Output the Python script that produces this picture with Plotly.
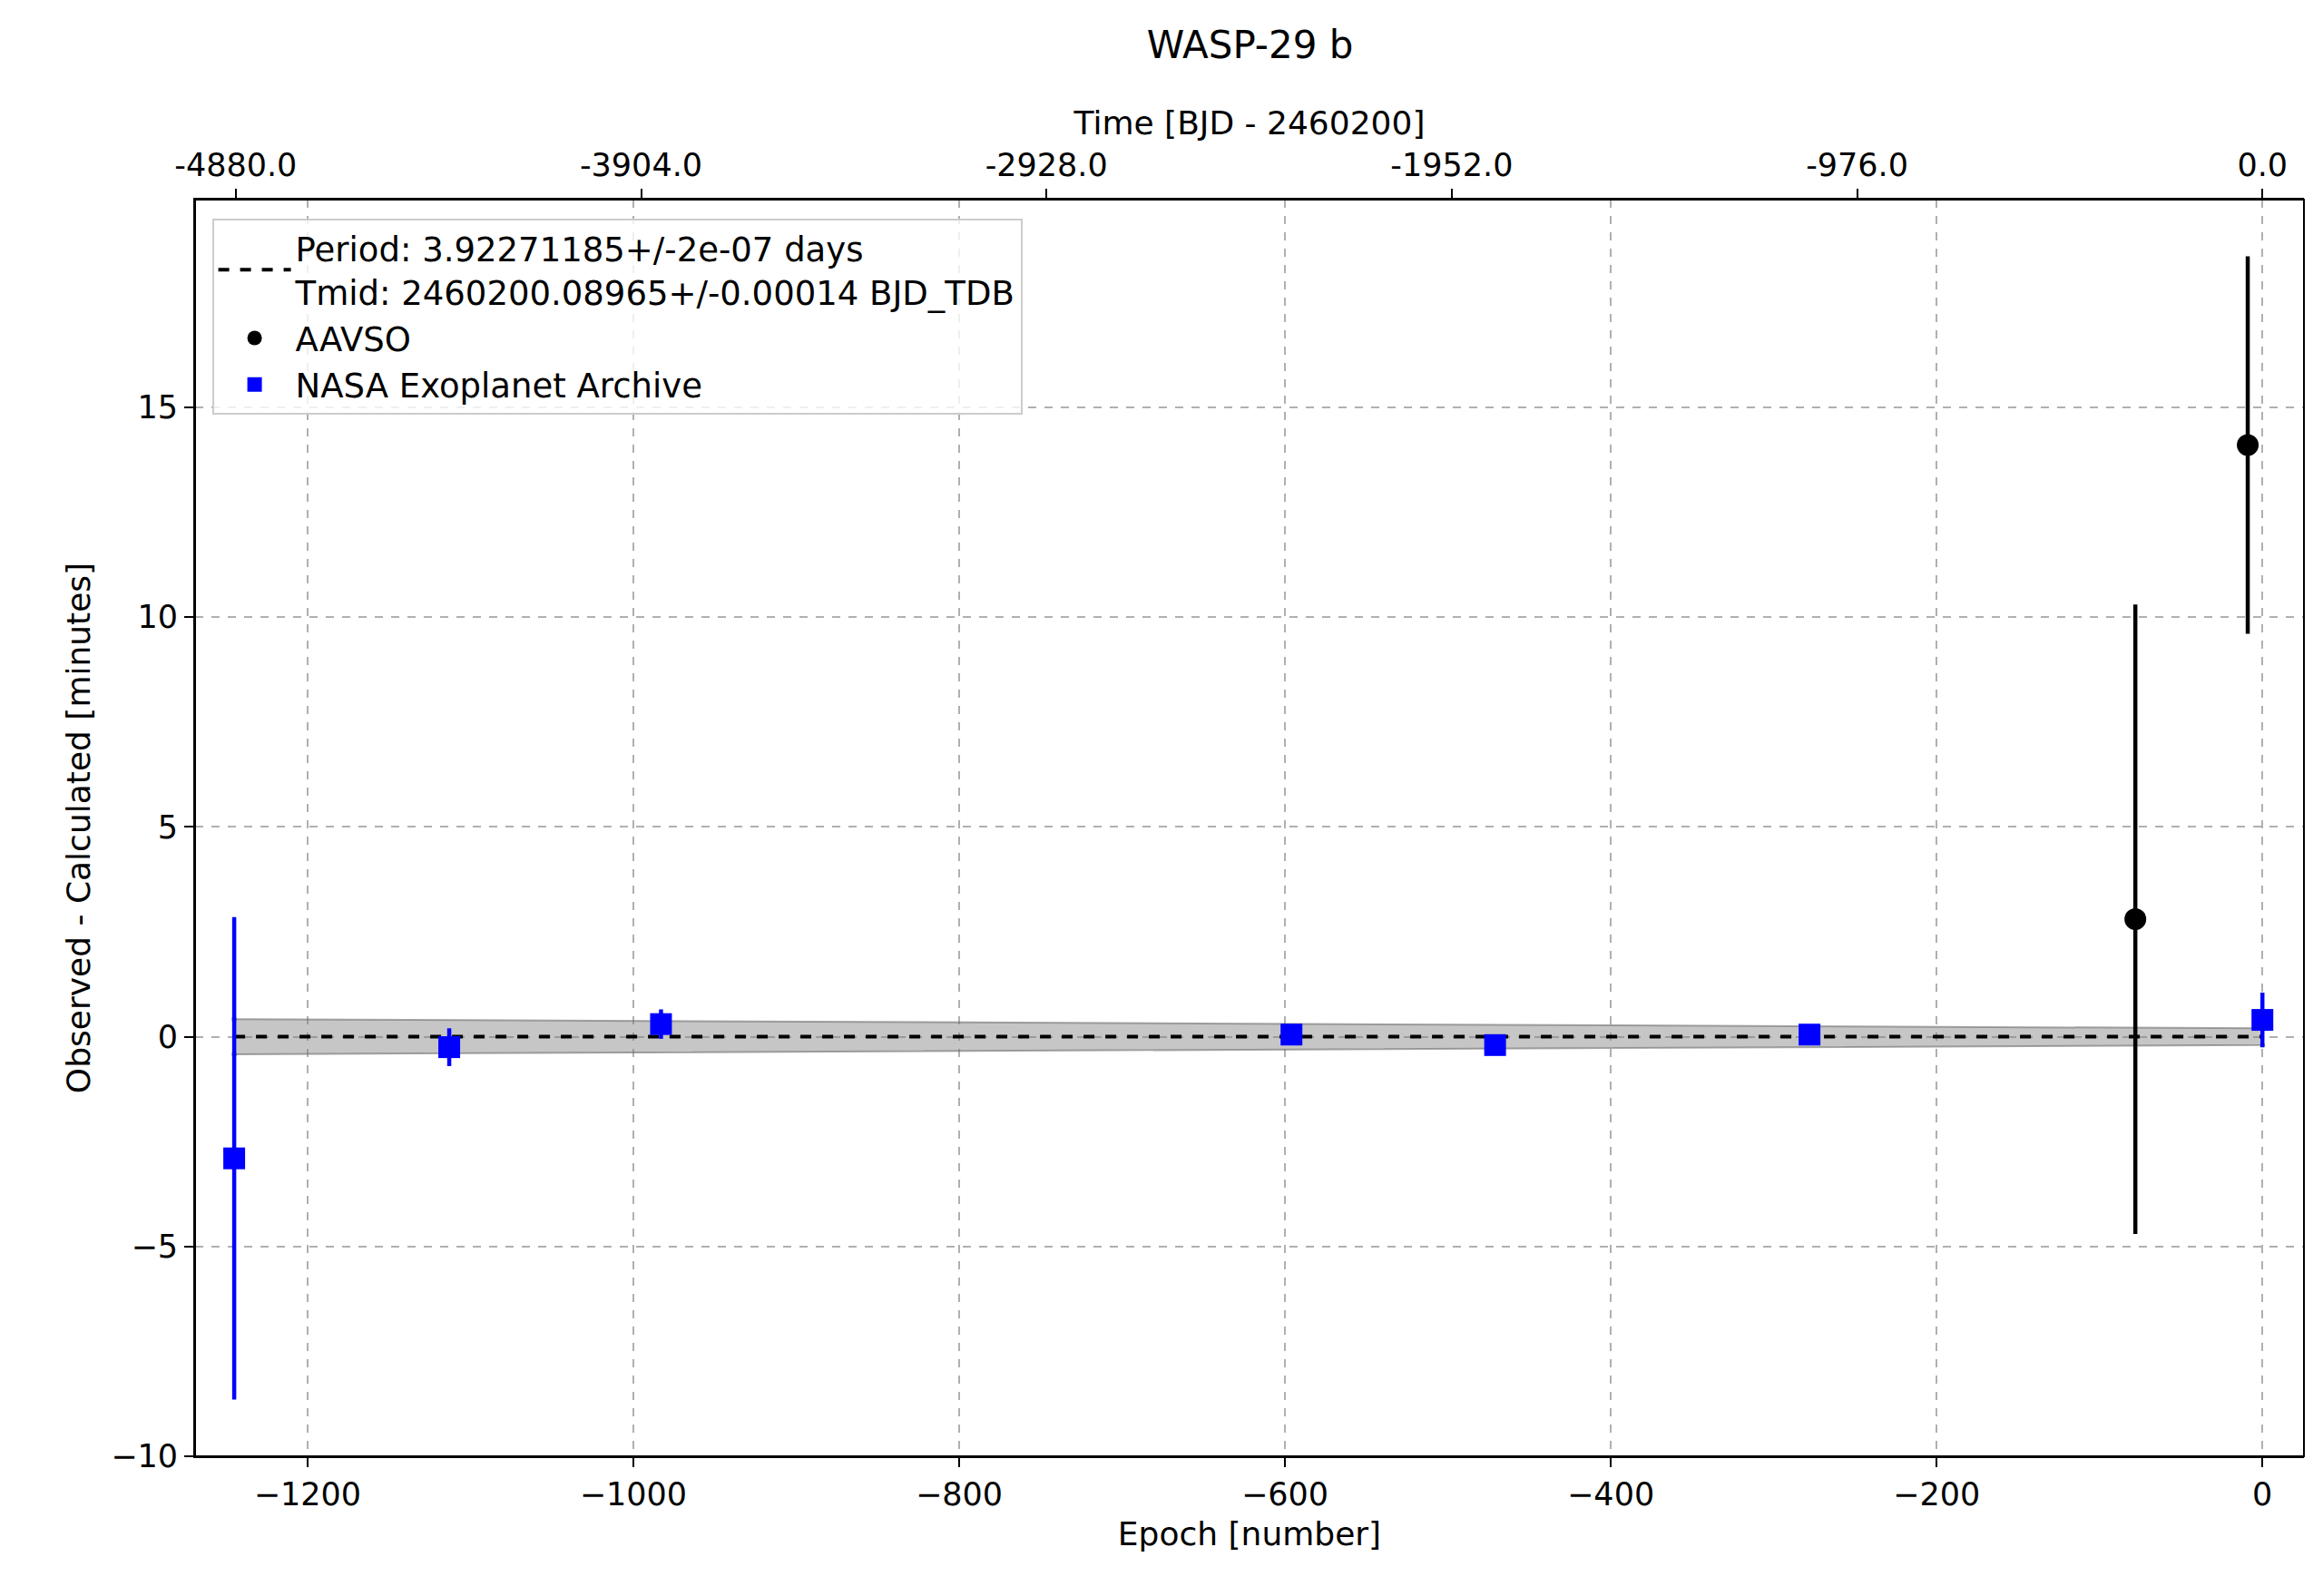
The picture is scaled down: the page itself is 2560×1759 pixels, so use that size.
import plotly.graph_objects as go

# O-C data (minutes) vs epoch
period = 3.92271185
nasa_epoch = [-1245, -1113, -983, -596, -471, -278, 0]
nasa_oc = [-2.9, -0.25, 0.3, 0.05, -0.2, 0.05, 0.4]
nasa_err = [5.75, 0.45, 0.35, 0.15, 0.15, 0.15, 0.65]

aavso_epoch = [-78, -9]
aavso_oc = [2.8, 14.1]
aavso_err = [7.5, 4.5]

band_epoch = [-1245, 0]
band_half = [0.42, 0.2]

time_ticks = [-4880.0, -3904.0, -2928.0, -1952.0, -976.0, 0.0]

xr = [-1269, 25.5]
FONT = "DejaVu Sans"

fig = go.Figure()

# fit uncertainty band
bx = band_epoch + band_epoch[::-1]
by = [band_half[0], band_half[1], -band_half[1], -band_half[0]]
fig.add_trace(go.Scatter(x=bx, y=by, fill="toself", fillcolor="rgba(128,128,128,0.45)",
                         line=dict(color="rgba(110,110,110,0.6)", width=2),
                         showlegend=False, hoverinfo="skip"))

fig.add_trace(go.Scatter(x=band_epoch, y=[0, 0], mode="lines",
                         line=dict(color="black", dash="dash", width=4),
                         name="Period: 3.92271185+/-2e-07 days<br>Tmid: 2460200.08965+/-0.00014 BJD_TDB"))

fig.add_trace(go.Scatter(x=aavso_epoch, y=aavso_oc, mode="markers", name="AAVSO",
                         marker=dict(color="black", size=24, symbol="circle"),
                         error_y=dict(type="data", array=aavso_err, color="black", thickness=4.5, width=0)))

fig.add_trace(go.Scatter(x=nasa_epoch, y=nasa_oc, mode="markers", name="NASA Exoplanet Archive",
                         marker=dict(color="blue", size=24, symbol="square"),
                         error_y=dict(type="data", array=nasa_err, color="blue", thickness=4.5, width=0)))

# dummy trace for top axis
fig.add_trace(go.Scatter(x=[xr[0] * period], y=[0], xaxis="x2", mode="markers",
                         marker=dict(opacity=0), showlegend=False, hoverinfo="skip"))

axis_common = dict(showline=True, linecolor="black", linewidth=2, mirror=False, ticks="outside",
                   ticklen=10, tickwidth=2, tickcolor="black", zeroline=False,
                   tickfont=dict(size=35, color="black", family=FONT))

fig.update_layout(
    width=2560, height=1759,
    paper_bgcolor="white", plot_bgcolor="white",
    font=dict(family=FONT, color="black"),
    margin=dict(l=207, r=29, t=212, b=162),
    title=dict(text="WASP-29 b", x=0.535, xanchor="center", y=0.985, yanchor="top",
               font=dict(size=42, color="black")),
    xaxis=dict(range=xr, tickvals=[-1200, -1000, -800, -600, -400, -200, 0],
               ticktext=["\u22121200", "\u22121000", "\u2212800", "\u2212600", "\u2212400", "\u2212200", "0"],
               showgrid=True, gridcolor="#b0b0b0", griddash="dash", gridwidth=2,
               title=dict(text="Epoch [number]", font=dict(size=36), standoff=12), **axis_common),
    xaxis2=dict(range=[xr[0] * period, xr[1] * period], overlaying="x", side="top",
                tickvals=time_ticks, ticktext=["%.1f" % t for t in time_ticks], showgrid=False,
                title=dict(text="Time [BJD - 2460200]", font=dict(size=36), standoff=2), **axis_common),
    yaxis=dict(range=[-10, 19.95], tickvals=[-10, -5, 0, 5, 10, 15],
               ticktext=["\u221210", "\u22125", "0", "5", "10", "15"],
               showgrid=True, gridcolor="#b0b0b0", griddash="dash", gridwidth=2,
               title=dict(text="Observed - Calculated [minutes]", font=dict(size=36), standoff=12),
               **axis_common),
    legend=dict(x=0.008, y=0.985, xanchor="left", yanchor="top", bgcolor="rgba(255,255,255,0.8)",
                bordercolor="#cccccc", borderwidth=2, font=dict(size=37, color="black"),
                itemwidth=80, tracegroupgap=6),
)

fig.add_shape(type="rect", xref="paper", yref="paper", x0=0, x1=1, y0=0, y1=1,
              line=dict(color="black", width=2))

fig.write_html("out.html")
